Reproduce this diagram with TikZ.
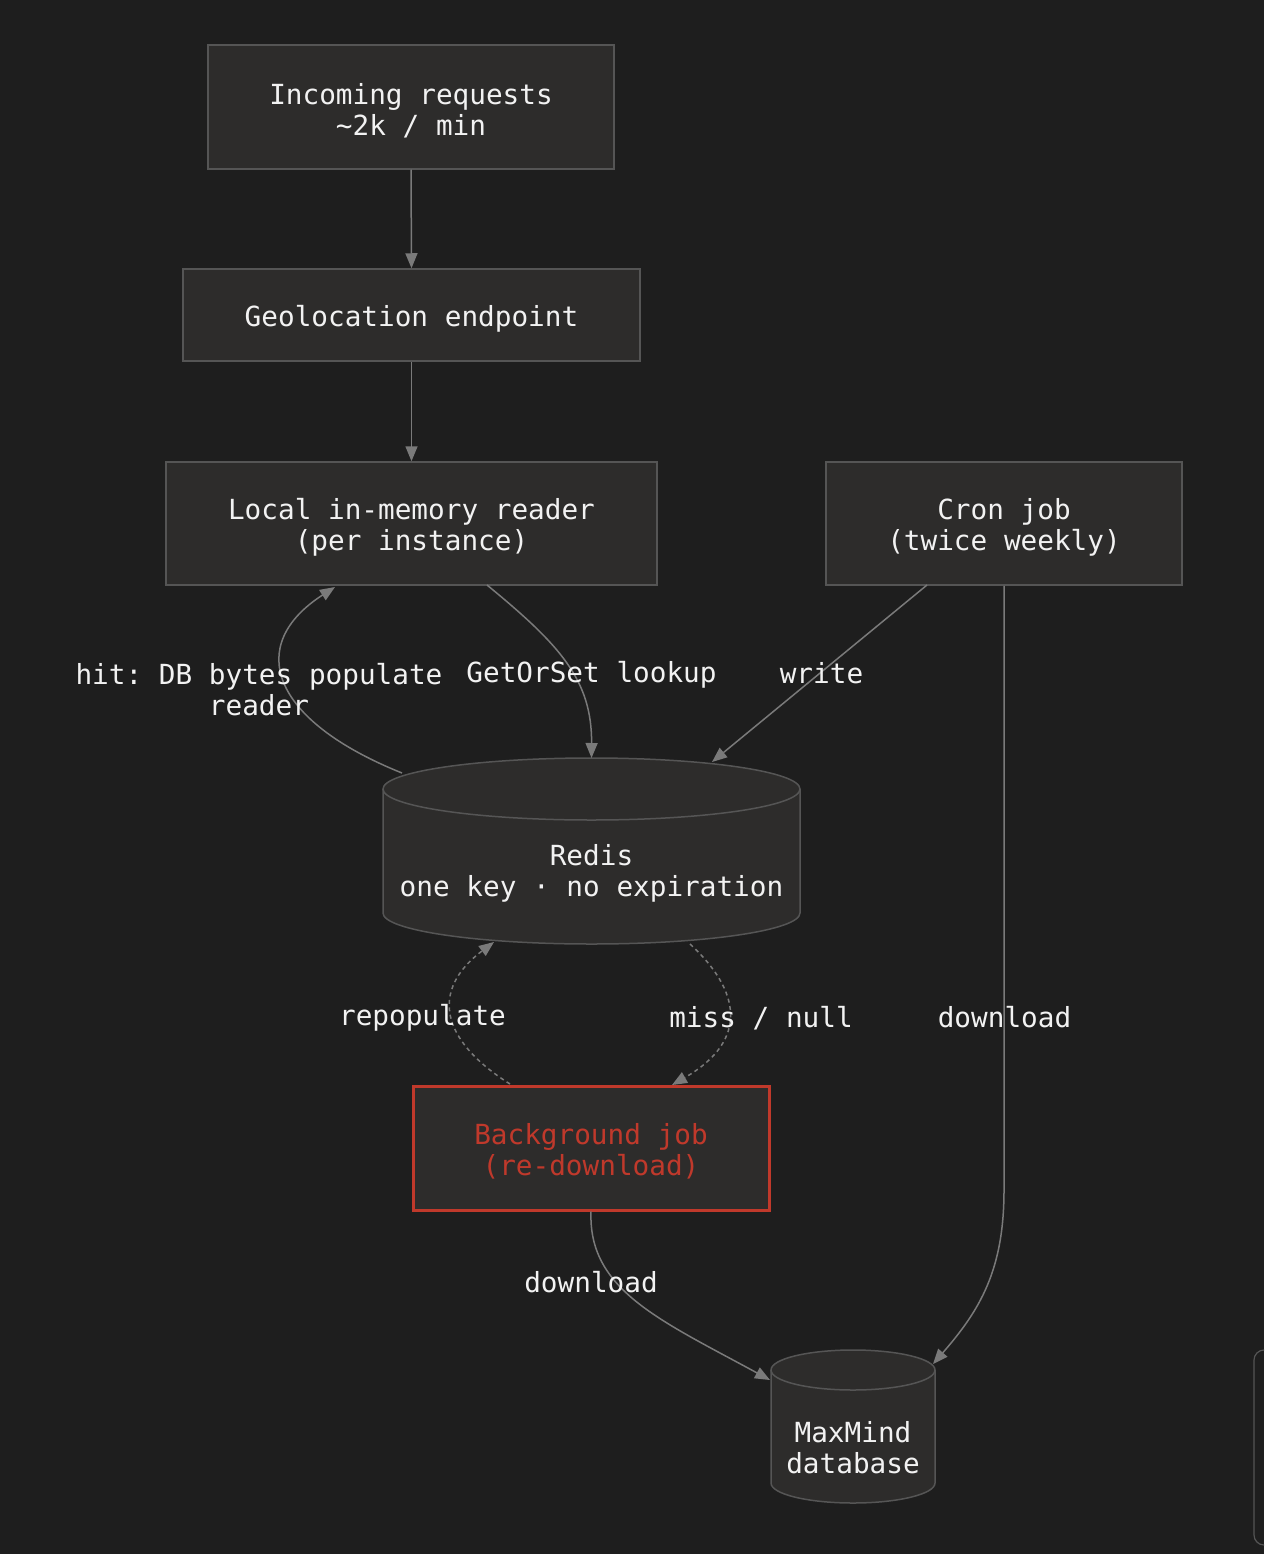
\documentclass[tikz,border=0pt]{standalone}
\usepackage{fontspec}
\newfontfamily\dmono{DejaVu Sans Mono}
\usetikzlibrary{arrows.meta}
\frenchspacing
\definecolor{bgc}{HTML}{1E1E1E}
\definecolor{nfill}{HTML}{2D2C2B}
\definecolor{nborder}{HTML}{555555}
\definecolor{edgec}{HTML}{7A7A7A}
\definecolor{txt}{HTML}{F2F2F2}
\definecolor{redc}{HTML}{C0392B}
\tikzset{
  basefont/.style={font=\dmono\frenchspacing\fontsize{27.7}{31}\selectfont, text=txt, align=center},
  procbox/.style={draw=nborder, fill=nfill, line width=1.5pt, inner sep=0pt},
  redbox/.style={draw=redc, fill=nfill, line width=3pt, inner sep=0pt},
  lbl/.style={basefont, inner sep=0pt},
  redlbl/.style={lbl, text=redc},
  cyl/.style={draw=nborder, fill=nfill, line width=1.5pt},
  anchorbox/.style={inner sep=0pt, outer sep=0pt},
  conn/.style={draw=edgec, line width=1.5pt, -{Triangle[length=15pt,width=12pt]}},
  dconn/.style={conn, dash pattern=on 4pt off 3.5pt},
}
\begin{document}
\begin{tikzpicture}[x=1pt,y=1pt]
\fill[bgc] (0,0) rectangle (1264,-1554);
\useasboundingbox (0,0) rectangle (1264,-1554);
\begin{scope}
\clip (0,0) rectangle (1264,-1554);
\draw[nborder, line width=1.2pt, rounded corners=10pt] (1300,-1350) -- (1254,-1350) -- (1254,-1545) -- (1300,-1545);
\end{scope}

% rectangular nodes
\node[procbox, minimum width=406, minimum height=124] (inc) at (411,-107) {};
\node[lbl] (inctext) at (411,-111) {Incoming requests\\\textasciitilde2k / min};
\node[procbox, minimum width=457, minimum height=92] (geo) at (411.5,-315) {};
\node[lbl] (geotext) at (411.5,-319) {Geolocation endpoint};
\node[procbox, minimum width=491, minimum height=123] (reader) at (411.5,-523.5) {};
\node[lbl] (readertext) at (411.5,-527.5) {Local in-memory reader\\(per instance)};
\node[procbox, minimum width=356, minimum height=123] (cron) at (1004,-523.5) {};
\node[lbl] (crontext) at (1004,-527.5) {Cron job\\(twice weekly)};
\node[redbox, minimum width=356, minimum height=124] (bg) at (591,-1148) {};
\node[redlbl] (bgtext) at (591,-1151) {Background job\\(re-download)};

% Redis cylinder
\fill[nfill] (383,-789) -- (383,-913) arc[start angle=180,end angle=360,x radius=208.5,y radius=31] -- (800,-789) arc[start angle=0,end angle=180,x radius=208.5,y radius=31] -- cycle;
\draw[cyl, fill=none] (383,-789) -- (383,-913) arc[start angle=180,end angle=360,x radius=208.5,y radius=31] -- (800,-789) arc[start angle=0,end angle=180,x radius=208.5,y radius=31];
\draw[cyl, fill=none] (383,-789) arc[start angle=180,end angle=360,x radius=208.5,y radius=31];
\node[anchorbox, minimum width=417, minimum height=186] (redis) at (591.5,-851) {};
\node[lbl] (redistext) at (591.5,-873) {Redis\\one key · no expiration};

% MaxMind cylinder
\fill[nfill] (771,-1370) -- (771,-1483) arc[start angle=180,end angle=360,x radius=82,y radius=20] -- (935,-1370) arc[start angle=0,end angle=180,x radius=82,y radius=20] -- cycle;
\draw[cyl, fill=none] (771,-1370) -- (771,-1483) arc[start angle=180,end angle=360,x radius=82,y radius=20] -- (935,-1370) arc[start angle=0,end angle=180,x radius=82,y radius=20];
\draw[cyl, fill=none] (771,-1370) arc[start angle=180,end angle=360,x radius=82,y radius=20];
\node[anchorbox, minimum width=164, minimum height=153] (maxmind) at (853,-1426.5) {};
\node[lbl] (maxtext) at (853,-1448) {MaxMind\\database};

% connector end points
\coordinate (readerout) at (487,-585);
\coordinate (readerin) at (335,-587);
\coordinate (redisout) at (402,-773);
\coordinate (redisin) at (712,-762);
\coordinate (redisbl) at (494,-942);
\coordinate (redisbr) at (690,-944);
\coordinate (cronl) at (927,-585);
\coordinate (bgtl) at (510,-1084);
\coordinate (bgtr) at (672,-1085);
\coordinate (maxl) at (770,-1380);
\coordinate (maxr) at (933,-1364);

% connectors
\draw[conn] (inc.south) -- (geo.north);
\draw[conn] (geo.south) -- (reader.north);
\draw[conn] (readerout) .. controls (560,-645) and (592,-680) .. (redis.north);
\draw[conn] (redisout) .. controls (270,-720) and (245,-645) .. (readerin);
\draw[conn] (cronl) -- (redisin);
\draw[conn] (cron.south) -- (1004,-1190) .. controls (1004,-1270) and (980,-1310) .. (maxr);
\draw[dconn] (redisbr) .. controls (740,-990) and (750,-1040) .. (bgtr);
\draw[dconn] (bgtl) .. controls (440,-1040) and (430,-990) .. (redisbl);
\draw[conn] (bg.south) .. controls (588,-1290) and (660,-1320) .. (maxl);

% labels
\node[lbl] (lhit) at (259,-690) {hit: DB bytes populate\\reader};
\node[lbl] (lget) at (591.5,-675) {GetOrSet lookup};
\node[lbl] (lwrite) at (821.5,-673) {write};
\node[lbl] (lrepop) at (422.5,-1018) {repopulate};
\node[lbl] (lmiss) at (761,-1018) {miss / null};
\node[lbl] (ldl1) at (1004.5,-1017) {download};
\node[lbl] (ldl2) at (591,-1282) {download};
\end{tikzpicture}
\end{document}
